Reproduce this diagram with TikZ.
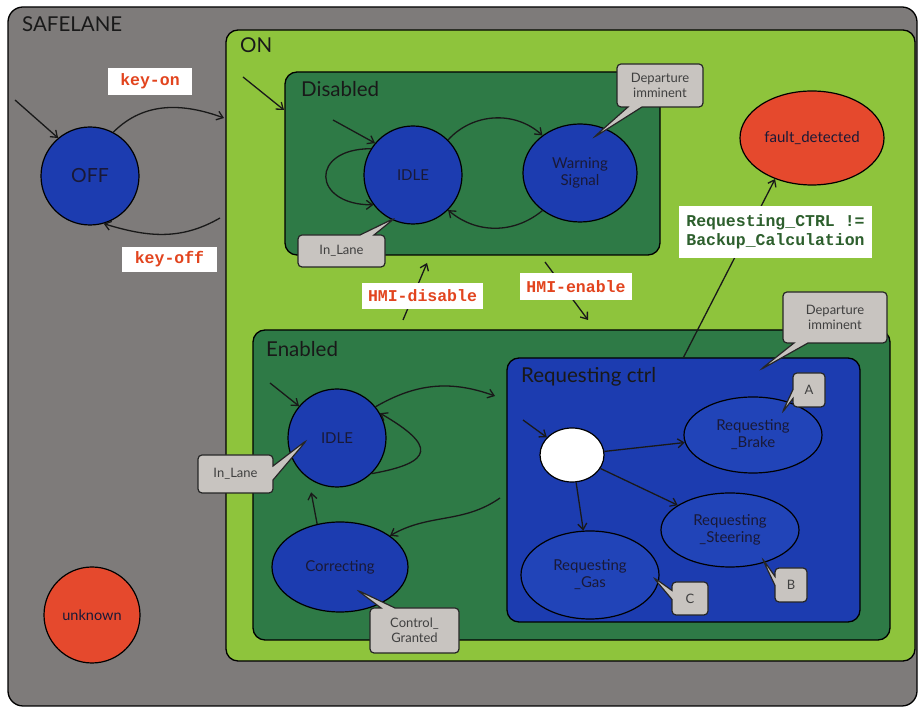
\documentclass[tikz,border=0pt]{standalone}
\usepackage{fontspec}
\setmainfont{Lato}
\newfontfamily\monof{Liberation Mono}
\usetikzlibrary{arrows.meta,shapes.geometric,shapes.callouts}
\definecolor{bggray}{RGB}{126,123,122}
\definecolor{ongreen}{RGB}{142,196,60}
\definecolor{dkgreen}{RGB}{46,122,70}
\definecolor{stblue}{RGB}{28,60,176}
\definecolor{inblue}{RGB}{33,68,184}
\definecolor{stred}{RGB}{229,73,45}
\definecolor{clgray}{RGB}{200,196,192}
\definecolor{lblred}{RGB}{226,68,30}
\definecolor{lblgreen}{RGB}{45,95,45}
\definecolor{txtdark}{RGB}{25,25,55}
\begin{document}
\begin{tikzpicture}[x=1pt,y=1pt,
  container/.style={rectangle, draw=black, line width=1.3pt, rounded corners=12pt, inner sep=0pt},
  ttl/.style={anchor=base west, inner sep=0pt, font=\fontsize{20.5}{22}\selectfont, text=black!90},
  stnode/.style={draw=black, line width=1.2pt, fill=stblue, inner sep=0pt, text=txtdark, font=\fontsize{15}{17}\selectfont, align=center},
  circstate/.style={stnode, circle},
  ellstate/.style={stnode, ellipse},
  callbox/.style={rectangle callout, draw=black!85, line width=1.2pt, fill=clgray, rounded corners=4pt, inner sep=0pt, callout pointer width=14pt, font=\fontsize{13}{15}\selectfont, text=black!75, align=center},
  evt/.style={rectangle, fill=white, inner sep=0pt, font=\monof\bfseries\fontsize{16.5}{19}\selectfont, text=lblred},
  arr/.style={-{Straight Barb[length=6pt,width=9pt]}, line width=1.3pt, draw=black!90}]
\useasboundingbox (0,0) rectangle (919,709);
\fill[white] (0,0) rectangle (919,709);
% containers
\node[container, rounded corners=15pt, fill=bggray, minimum width=909pt, minimum height=699pt] (safelane) at (462.5,352.5) {};
\node[container, fill=ongreen, minimum width=689pt, minimum height=631pt] (on) at (570.5,363.5) {};
\node[container, fill=dkgreen, minimum width=375pt, minimum height=183pt] (dis) at (472.5,545.5) {};
\node[container, fill=dkgreen, minimum width=637pt, minimum height=310pt] (en) at (571.5,224) {};
\node[container, fill=stblue, minimum width=353pt, minimum height=264pt] (rc) at (683.5,219) {};
% titles
\node[ttl] (tsafe) at (22,677) {SAFELANE};
\node[ttl] (ton) at (240,656) {ON};
\node[ttl] (tdis) at (301,612) {Disabled};
\node[ttl] (ten) at (266,352) {Enabled};
\node[ttl] (trc) at (521,326) {Requesting ctrl};
% states
\node[circstate, minimum size=98pt, font=\fontsize{19.5}{21}\selectfont] (off) at (90,533) {OFF};
\node[circstate, fill=stred, minimum size=96pt, font=\fontsize{14.5}{17}\selectfont] (unknown) at (92,94) {unknown};
\node[circstate, minimum size=98pt] (didle) at (413,534) {IDLE};
\node[ellstate, minimum width=114pt, minimum height=98pt] (warn) at (580,536) {Warning\\Signal};
\node[ellstate, fill=stred, minimum width=144pt, minimum height=94pt] (fault) at (812,571) {fault\_detected};
\node[circstate, minimum size=98pt] (eidle) at (337,271) {IDLE};
\node[ellstate, minimum width=136pt, minimum height=90pt] (corr) at (340,142) {Correcting};
\node[ellstate, fill=white, minimum width=64pt, minimum height=54pt] (init) at (572,254) {};
\node[ellstate, fill=inblue, minimum width=138pt, minimum height=76pt] (brake) at (753,274) {Requesting\\\_Brake};
\node[ellstate, fill=inblue, minimum width=138pt, minimum height=74pt] (steer) at (730,179) {Requesting\\\_Steering};
\node[ellstate, fill=inblue, minimum width=138pt, minimum height=88pt] (gas) at (590,134) {Requesting\\\_Gas};
% connectors: top level
\coordinate (offin) at (15,609);
\draw[arr] (offin) -- (off.130);
\coordinate (onL1) at (224,591);
\draw[arr] (off.62) to[out=45,in=160] (onL1);
\coordinate (onL2) at (220,491);
\draw[arr] (onL2) to[out=210,in=-17] (off.-74);
% Disabled
\coordinate (onin) at (243,632);
\coordinate (disin) at (284,599);
\draw[arr] (onin) -- (disin);
\coordinate (didin) at (333,589);
\draw[arr] (didin) -- (didle.140);
\draw[arr] (didle.148) to[out=180,in=180,looseness=2.8] (didle.217);
\draw[arr] (didle.45) to[bend left=45] (warn.135);
\draw[arr] (warn.225) to[bend left=40] (didle.-45);
% HMI
\coordinate (hd1) at (403,389);
\coordinate (hd2) at (427,446);
\draw[arr] (hd1) -- (hd2);
\coordinate (he1) at (545,447);
\coordinate (he2) at (588,389);
\draw[arr] (he1) -- (he2);
% fault
\draw[arr] (rc.north) -- (fault.228);
% Enabled
\coordinate (enin) at (270,326);
\draw[arr] (enin) -- (eidle.140);
\coordinate (rcin) at (495,313);
\draw[arr] (eidle.39) to[bend left=25] (rcin);
\draw[arr] (eidle.-46) to[out=10,in=-30,looseness=2.7] (eidle.30);
\coordinate (rcout) at (500,211);
\draw[arr] (rcout) to[out=215,in=30] (corr.32);
\draw[arr, shorten >=14pt] (corr.118) -- (eidle.235);
% Requesting ctrl
\coordinate (rcinit) at (523,289);
\draw[arr] (rcinit) -- (init.145);
\draw[arr] (init) -- (brake);
\draw[arr] (init) -- (steer);
\draw[arr] (init) -- (gas);
% callouts
\node[callbox, minimum width=87pt, minimum height=32pt, callout absolute pointer={(395,491)}] (cl1) at (341.5,458) {In\_Lane};
\node[callbox, minimum width=86pt, minimum height=43pt, callout absolute pointer={(593,571)}] (cl2) at (660,623.5) {Departure\\imminent};
\node[callbox, minimum width=75pt, minimum height=38pt, callout absolute pointer={(307,269)}] (cl3) at (235.5,235) {In\_Lane};
\node[callbox, minimum width=89pt, minimum height=45pt, callout absolute pointer={(357,119)}] (cl4) at (414.5,78.5) {Control\_\\Granted};
\node[callbox, minimum width=104pt, minimum height=51pt, callout absolute pointer={(760,339)}] (cl5) at (835,391.5) {Departure\\imminent};
\node[callbox, callout pointer width=9pt, minimum width=32pt, minimum height=34pt, callout absolute pointer={(782,296)}] (ca) at (809,319) {A};
\node[callbox, callout pointer width=9pt, minimum width=32pt, minimum height=34pt, callout absolute pointer={(762,151)}] (cb) at (791,124) {B};
\node[callbox, callout pointer width=9pt, minimum width=36pt, minimum height=33pt, callout absolute pointer={(653,132)}] (cc) at (690,110.5) {C};
% event labels
\node[evt, minimum width=84pt, minimum height=27pt] (lkeyon) at (150,627.5) {key-on};
\node[evt, minimum width=95pt, minimum height=25pt] (lkeyoff) at (169.5,449.5) {key-off};
\node[evt, minimum width=121pt, minimum height=26pt] (lhd) at (422.5,413) {HMI-disable};
\node[evt, minimum width=112pt, minimum height=27pt] (lhe) at (576,422.5) {HMI-enable};
\node[evt, text=lblgreen, align=left, minimum width=193pt, minimum height=52pt] (lfault) at (775.5,477) {Requesting\_CTRL !=\\Backup\_Calculation};
\end{tikzpicture}
\end{document}
